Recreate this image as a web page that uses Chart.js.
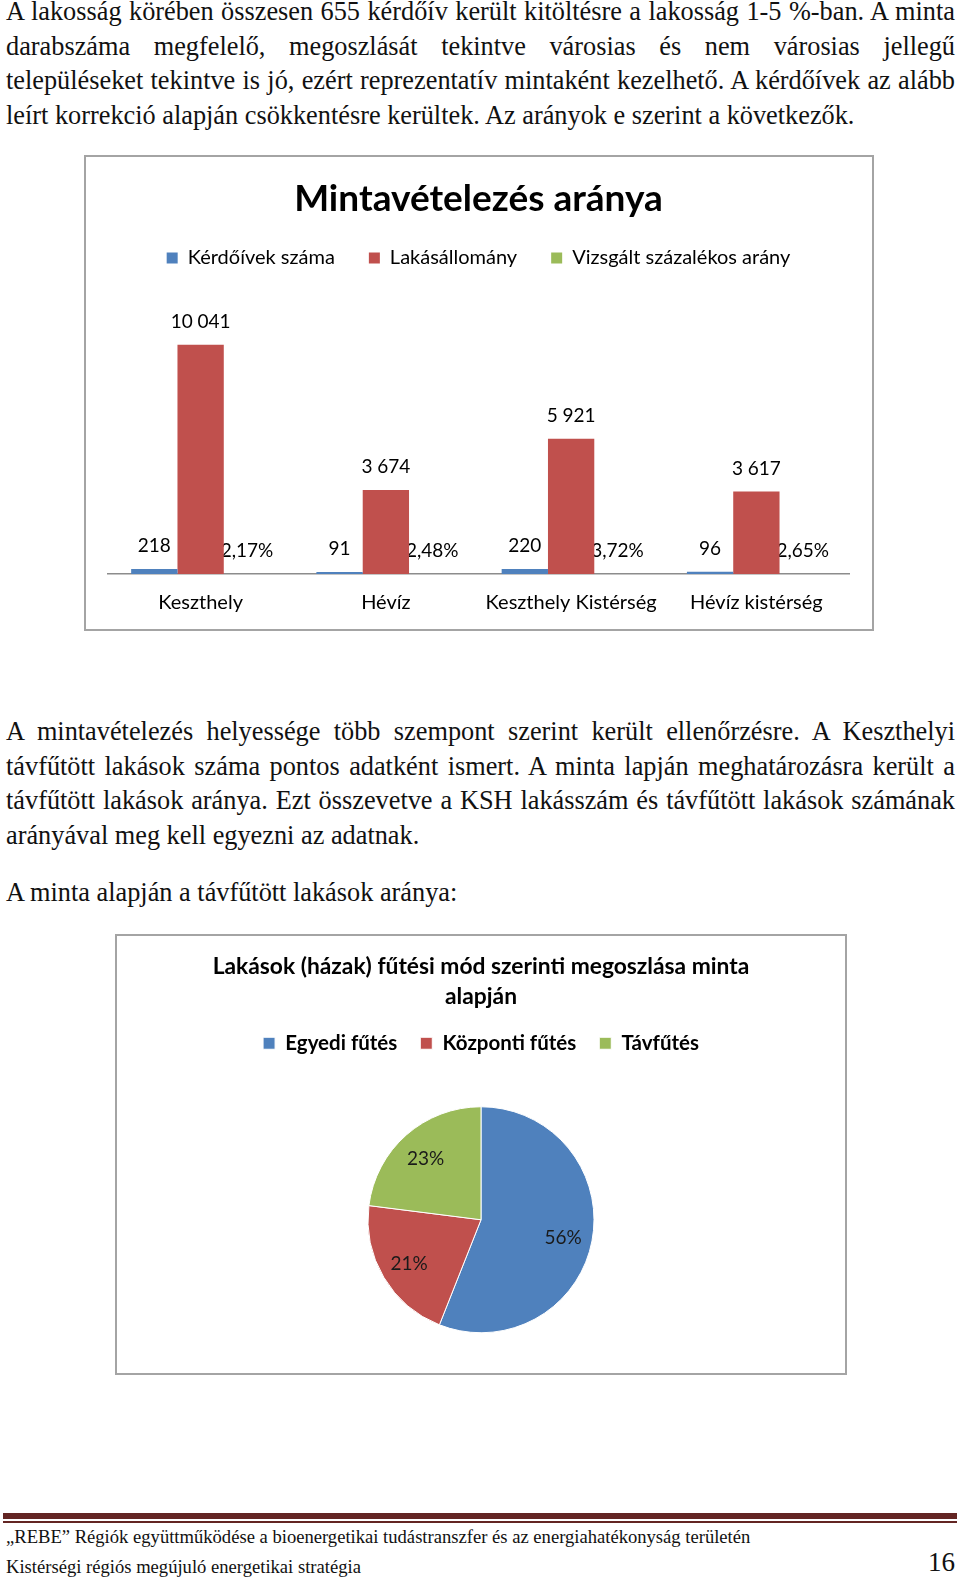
<!DOCTYPE html>
<html lang="hu">
<head>
<meta charset="utf-8">
<title>Mintavételezés aránya</title>
<script src="https://cdn.jsdelivr.net/npm/chart.js@4.4.1/dist/chart.umd.min.js"></script>
<style>
  html, body { margin: 0; padding: 0; background: #fff; }
  body { width: 960px; height: 1577px; position: relative; overflow: hidden;
         font-family: "Liberation Serif", "Times New Roman", serif; color: #111; }
  .txt { position: absolute; left: 6px; width: 949px; font-size: 26.3px; }
  .txt div { height: 34.5px; line-height: 34.5px; white-space: nowrap; }
  .txt div.j { text-align: justify; text-align-last: justify; }
  .box { position: absolute; box-sizing: border-box; border: 2px solid #a4a4a4; }
  .cv { position: absolute; }
  .rule1 { position: absolute; left: 3px; width: 954px; top: 1513px; height: 6px; background: #632523; }
  .rule2 { position: absolute; left: 3px; width: 954px; top: 1521px; height: 2px; background: #632523; }
  .foot { position: absolute; left: 6px; font-size: 18.6px; white-space: nowrap; color: #111; }
  .page { position: absolute; left: 928px; top: 1547px; font-size: 27px; color: #111; }
</style>
</head>
<body>

<div class="txt" style="top:-5px">
  <div class="j">A lakosság körében összesen 655 kérdőív került kitöltésre a lakosság 1-5 %-ban. A minta</div>
  <div class="j">darabszáma megfelelő, megoszlását tekintve városias és nem városias jellegű</div>
  <div class="j">településeket tekintve is jó, ezért reprezentatív mintaként kezelhető. A kérdőívek az alább</div>
  <div>leírt korrekció alapján csökkentésre kerültek. Az arányok e szerint a következők.</div>
</div>

<div class="box" style="left:84px; top:155px; width:790px; height:476px"></div>
<div class="cv" style="left:87px; top:158px; width:783px; height:488px"><canvas id="mintaChart"></canvas></div>

<div class="txt" style="top:715px">
  <div class="j">A mintavételezés helyessége több szempont szerint került ellenőrzésre. A Keszthelyi</div>
  <div class="j">távfűtött lakások száma pontos adatként ismert. A minta lapján meghatározásra került a</div>
  <div class="j">távfűtött lakások aránya. Ezt összevetve a KSH lakásszám és távfűtött lakások számának</div>
  <div>arányával meg kell egyezni az adatnak.</div>
</div>

<div class="txt" style="top:876px">
  <div>A minta alapján a távfűtött lakások aránya:</div>
</div>

<div class="box" style="left:115px; top:934px; width:732px; height:441px"></div>
<div class="cv" style="left:117px; top:936px; width:728px; height:460px"><canvas id="futesChart"></canvas></div>

<div class="rule1"></div>
<div class="rule2"></div>
<div class="foot" style="top:1526px">„REBE” Régiók együttműködése a bioenergetikai tudástranszfer és az energiahatékonyság területén</div>
<div class="foot" style="top:1556px">Kistérségi régiós megújuló energetikai stratégia</div>
<div class="page">16</div>

<script>
// bar chart data
const categories = ["Keszthely", "Hévíz", "Keszthely Kistérség", "Hévíz kistérség"];
const kerdoivek = [218, 91, 220, 96];
const lakasallomany = [10041, 3674, 5921, 3617];
const vizsgaltArany = [0.0217, 0.0248, 0.0372, 0.0265];

// pie chart data
const futesLabels = ["Egyedi fűtés", "Központi fűtés", "Távfűtés"];
const futesArany = [56, 21, 23];

const blue = "#4F81BD";
const red = "#C0504D";
const green = "#9BBB59";

Chart.defaults.font.family = "Lato, 'Open Sans', sans-serif";
Chart.defaults.color = "#000";

function num(v) {
  return String(v).replace(/\B(?=(\d{3})+(?!\d))/g, " ");
}
function pct(v) {
  return (v * 100).toFixed(2).replace(".", ",") + "%";
}

// value labels above the bars (drawn before the bars, like in the original)
const barLabels = {
  id: "barLabels",
  beforeDatasetsDraw(chart) {
    const ctx = chart.ctx;
    ctx.save();
    ctx.font = "19px Lato";
    ctx.fillStyle = "#000";
    ctx.textAlign = "center";
    ctx.textBaseline = "middle";
    chart.data.datasets.forEach((ds, i) => {
      chart.getDatasetMeta(i).data.forEach((bar, j) => {
        let txt = i === 2 ? pct(ds.data[j]) : num(ds.data[j]);
        ctx.fillText(txt, bar.x, bar.y - 23);
      });
    });
    ctx.restore();
  }
};

new Chart(document.getElementById("mintaChart"), {
  type: "bar",
  data: {
    labels: categories,
    datasets: [
      { label: "Kérdőívek száma", data: kerdoivek, backgroundColor: blue },
      { label: "Lakásállomány", data: lakasallomany, backgroundColor: red },
      { label: "Vizsgált százalékos arány", data: vizsgaltArany, backgroundColor: green }
    ]
  },
  options: {
    responsive: true,
    maintainAspectRatio: false,
    animation: false,
    categoryPercentage: 0.75,
    barPercentage: 1.0,
    layout: { padding: { left: 21, right: 21, top: 0, bottom: 14 } },
    plugins: {
      title: {
        display: true,
        text: "Mintavételezés aránya",
        font: { size: 37, weight: "bold", lineHeight: 1.0 },
        color: "#000",
        padding: { top: 23, bottom: -4 }
      },
      legend: {
        position: "top",
        labels: { boxWidth: 11, boxHeight: 11, padding: 34, font: { size: 20 }, color: "#000" }
      },
      tooltip: { enabled: false }
    },
    scales: {
      x: {
        grid: { display: false, drawTicks: false },
        border: { display: true, color: "#8c8c8c", width: 1.5 },
        ticks: { font: { size: 20 }, color: "#000", padding: 17 }
      },
      y: { display: false, min: 0, max: 12960 }
    }
  },
  plugins: [barLabels]
});

// percentage labels inside the slices
const pieLabels = {
  id: "pieLabels",
  afterDatasetsDraw(chart) {
    const ctx = chart.ctx;
    ctx.save();
    ctx.font = "19px Lato";
    ctx.fillStyle = "#1a1a1a";
    ctx.textAlign = "center";
    ctx.textBaseline = "middle";
    chart.getDatasetMeta(0).data.forEach((arc, i) => {
      const mid = (arc.startAngle + arc.endAngle) / 2;
      const r = arc.outerRadius * 0.74;
      ctx.fillText(futesArany[i] + "%", arc.x + Math.cos(mid) * r, arc.y + Math.sin(mid) * r + 2);
    });
    ctx.restore();
  }
};

new Chart(document.getElementById("futesChart"), {
  type: "pie",
  data: {
    labels: futesLabels,
    datasets: [{
      data: futesArany,
      backgroundColor: [blue, red, green],
      borderColor: "#fff",
      borderWidth: 1
    }]
  },
  options: {
    responsive: true,
    maintainAspectRatio: false,
    animation: false,
    radius: 113,
    layout: { padding: { top: 0, bottom: 20 } },
    plugins: {
      title: {
        display: true,
        text: ["Lakások (házak) fűtési mód szerinti megoszlása minta", "alapján"],
        font: { size: 22.8, weight: "bold", lineHeight: 1.316 },
        color: "#000",
        padding: { top: 16, bottom: -2 }
      },
      legend: {
        position: "top",
        labels: { boxWidth: 12, boxHeight: 12, padding: 23, font: { size: 20.5, weight: "bold" }, color: "#000" }
      },
      tooltip: { enabled: false }
    }
  },
  plugins: [pieLabels]
});
</script>
</body>
</html>
